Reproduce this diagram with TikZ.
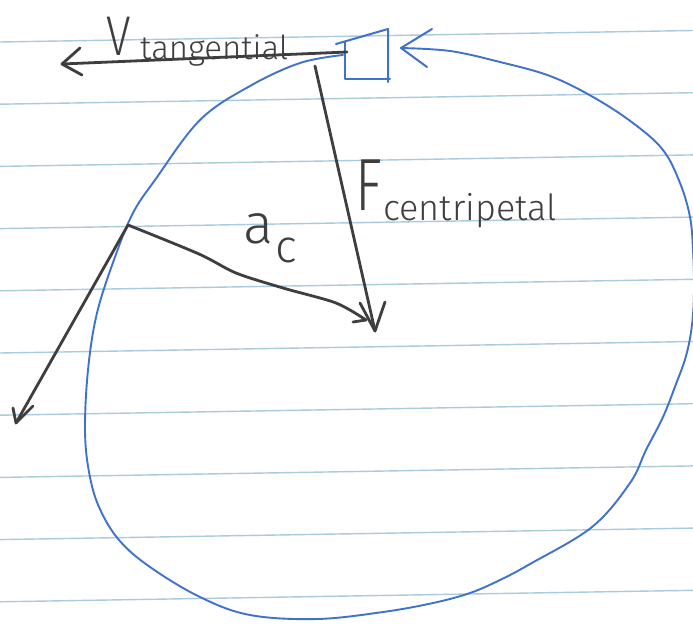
\documentclass[tikz,border=0pt]{standalone}
\usepackage{fontspec}
\newfontfamily\hand{Fira Sans}[UprightFont=* Light]
\begin{document}
\begin{tikzpicture}[x=1pt,y=-1pt,
  paper/.style={draw=paperblue,line width=1.4pt},
  ink/.style={draw=inkgray,line width=2.8pt,line cap=round,line join=round},
  blueink/.style={draw=penblue,line width=2pt,line cap=round,line join=round},
  lbl/.style={inner sep=0pt,text=inkgray,font=\hand}]
\definecolor{paperblue}{HTML}{A9CBE2}
\definecolor{inkgray}{HTML}{3E3E3E}
\definecolor{penblue}{HTML}{3F72CC}
\useasboundingbox (0,0) rectangle (693,624);
\fill[white] (0,0) rectangle (693,624);
\begin{scope}
\clip (0,0) rectangle (693,624);
% ruled paper
\foreach \k in {0,...,9}{
  \draw[paper] (0,{42+62.2*\k}) -- (693,{30.5+62.2*\k});
}
% orbit
\draw[blueink,line width=1.9pt] plot[smooth,tension=0.6] coordinates {
 (343,55) (300,63) (250,86) (200,120) (155,180) (133,213) (115,257)
 (97,313) (88,370) (85,430) (89,472) (99,507) (119,540) (150,567)
 (200,597) (250,615) (317,619) (383,612) (433,603) (470,593) (500,580)
 (530,564) (592,527) (630,483) (646,450) (663,417) (676,384) (686,356)
 (692,325) (694,290) (693,250) (690,217) (680,183) (663,150) (633,123)
 (593,97) (550,76) (500,62) (450,51) (401,48)};
\end{scope}
% block
\coordinate (btl) at (345,42);
\coordinate (btr) at (388,29);
\coordinate (bbr) at (388,82);
\coordinate (bbl) at (345,79);
\draw[blueink] (336,44) -- (btr) -- (bbr);
\draw[blueink] (btl) -- (bbl) -- (390,79);
% blue arrowhead
\coordinate (btip) at (401,48);
\coordinate (ba1) at (432,29);
\coordinate (ba2) at (427,67);
\draw[blueink] (ba1) -- (btip) -- (ba2);
% tangential velocity
\coordinate (vs) at (347,52);
\coordinate (vt) at (62,64);
\draw[ink] (vs) -- (vt);
\draw[ink] (80,48) -- (vt) -- (82,75);
% centripetal force
\coordinate (fs) at (315,66);
\coordinate (ft) at (375,331);
\draw[ink] (fs) -- (ft);
\draw[ink] (360,303) -- (ft) -- (385,302);
% a_c
\coordinate (pv) at (128,225);
\draw[ink] plot[smooth,tension=0.5] coordinates {(pv) (199,254) (236,273) (283,288) (336,303) (366,320)};
\draw[ink] (353,322) -- (366,320);
% tangential velocity at second point
\coordinate (lt) at (16,423);
\draw[ink] (pv) -- (lt);
\draw[ink] (13,408) -- (lt) -- (33,406);
% labels
\node[lbl,anchor=base west,font=\hand\fontsize{56}{56}\selectfont,xscale=0.8] (V) at (106,55) {V};
\node[lbl,anchor=base west,font=\hand\fontsize{33}{33}\selectfont] (vtx) at (140,59) {tangential};
\node[lbl,anchor=base west,font=\hand\fontsize{74}{74}\selectfont,xscale=0.75] (F) at (355,210) {F};
\node[lbl,anchor=base west,font=\hand\fontsize{36}{36}\selectfont] (ctx) at (383,220) {centripetal};
\node[lbl,anchor=base west,font=\hand\fontsize{56}{56}\selectfont] (a) at (243,243) {a};
\node[lbl,anchor=base west,font=\hand\fontsize{46}{46}\selectfont] (c) at (275,262) {c};
\end{tikzpicture}
\end{document}
